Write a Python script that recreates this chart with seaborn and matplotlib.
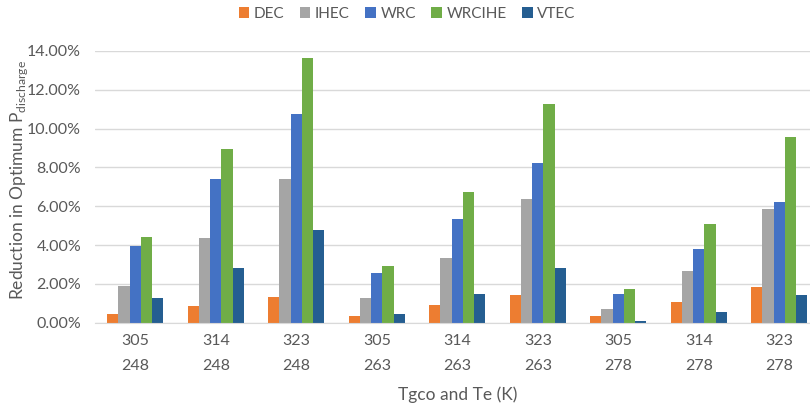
import matplotlib
matplotlib.use("Agg")
import matplotlib.pyplot as plt
import seaborn as sns
import pandas as pd
from matplotlib.ticker import FuncFormatter

tgco = ["305", "314", "323", "305", "314", "323", "305", "314", "323"]
te = ["248", "248", "248", "263", "263", "263", "278", "278", "278"]
series = ["DEC", "IHEC", "WRC", "WRCIHE", "VTEC"]
dec = [0.43, 0.86, 1.34, 0.34, 0.91, 1.43, 0.34, 1.05, 1.82]
ihec = [1.91, 4.35, 7.39, 1.25, 3.35, 6.37, 0.72, 2.68, 5.84]
wrc = [3.97, 7.39, 10.74, 2.58, 5.36, 8.25, 1.48, 3.78, 6.24]
wrcihe = [4.43, 8.93, 13.66, 2.92, 6.75, 11.25, 1.72, 5.09, 9.59]
vtec = [1.25, 2.82, 4.78, 0.43, 1.48, 2.82, 0.08, 0.57, 1.43]
colors = ["#ED7D31", "#A5A5A5", "#4472C4", "#70AD47", "#255E91"]

cats = [f"{a}\n{b}" for a, b in zip(tgco, te)]
rows = []
for name, vals in zip(series, [dec, ihec, wrc, wrcihe, vtec]):
    for c, v in zip(cats, vals):
        rows.append({"cat": c, "series": name, "value": v})
df = pd.DataFrame(rows)

sns.set_style("white")
plt.rcParams["font.family"] = ["Lato", "DejaVu Sans"]
plt.rcParams["mathtext.fontset"] = "custom"
plt.rcParams["mathtext.rm"] = "Lato"

fig = plt.figure(figsize=(8.1, 4.09), dpi=100)
W, H = 810, 409
left_px = 95
grp = 80.5
ax = fig.add_axes([left_px / W, (H - 322.7) / H, 9 * grp / W, (322.7 - 51) / H])

sns.barplot(data=df, x="cat", y="value", hue="series", order=cats,
            hue_order=series, palette=colors, width=0.7, gap=0,
            saturation=1, linewidth=0, ax=ax, legend=True)

ax.set_xlim(-0.5, 8.5)
ax.set_ylim(0, 14)
ax.set_yticks(range(0, 15, 2))
ax.yaxis.set_major_formatter(FuncFormatter(lambda v, p: f"{v:.2f}%"))
ax.grid(axis="y", color="#D9D9D9", linewidth=1)
ax.set_axisbelow(True)
for s in ["top", "right", "left"]:
    ax.spines[s].set_visible(False)
ax.spines["bottom"].set_color("#D9D9D9")
ax.tick_params(axis="both", length=0, colors="#595959", labelsize=11.5)
ax.tick_params(axis="x", pad=8)
ax.tick_params(axis="y", pad=10)
for lab in ax.get_xticklabels():
    lab.set_linespacing(2.0)

ax.set_xlabel("Tgco and Te (K)", color="#595959", fontsize=12.5, labelpad=10)
ax.set_ylabel("")
fig.text(19 / W, 1 - 180 / H, "Reduction in Optimum P$_{\\mathregular{discharge}}$",
         color="#595959", fontsize=12.5, rotation=90, ha="center", va="center")

handles, labels = ax.get_legend_handles_labels()
ax.get_legend().remove()
fig.legend(handles, labels, loc="center", bbox_to_anchor=(407 / W, 1 - 14 / H),
           ncol=5, frameon=False, fontsize=11, handlelength=0.7,
           handleheight=0.7, handletextpad=0.3, columnspacing=1.0,
           labelcolor="#595959")

fig.savefig("out.png", dpi=100)
